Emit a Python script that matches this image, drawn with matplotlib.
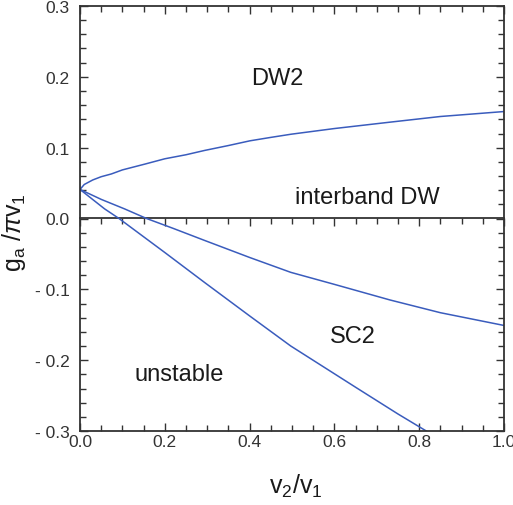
import matplotlib
matplotlib.use('Agg')
import matplotlib.pyplot as plt
from matplotlib.ticker import MultipleLocator, FixedLocator, FixedFormatter, NullFormatter

plt.rcParams['font.family'] = ['Liberation Sans', 'DejaVu Sans']
plt.rcParams['mathtext.fontset'] = 'custom'
plt.rcParams['mathtext.rm'] = 'Liberation Sans'
plt.rcParams['mathtext.it'] = 'Liberation Sans:italic'

# phase boundaries, (v2/v1, g_a/pi v1)
dw_x = [0.0, 0.01, 0.03, 0.05, 0.074, 0.1, 0.153, 0.2, 0.25, 0.294, 0.35, 0.401,
        0.45, 0.498, 0.6, 0.731, 0.85, 1.0]
dw_y = [0.041, 0.048, 0.0544, 0.059, 0.0629, 0.0686, 0.0768, 0.0843, 0.090, 0.0961,
        0.103, 0.1097, 0.1145, 0.119, 0.127, 0.136, 0.144, 0.151]

sc_x = [0.0, 0.05, 0.105, 0.157, 0.22, 0.294, 0.4, 0.497, 0.6, 0.731, 0.85, 1.0]
sc_y = [0.041, 0.027, 0.0136, 0.0, -0.014, -0.031, -0.055, -0.076, -0.093, -0.115,
        -0.133, -0.151]

un_x = [0.0, 0.058, 0.092, 0.2, 0.294, 0.4, 0.497, 0.652, 0.75, 0.825]
un_y = [0.041, 0.0136, 0.0, -0.048, -0.0904, -0.1375, -0.180, -0.239, -0.276, -0.303]

region_names = ['DW2', 'interband DW', 'SC2', 'unstable']
region_x = [0.465, 0.678, 0.644, 0.234]
region_y = [0.19, 0.0224, -0.174, -0.2276]

yticks = [-0.3, -0.2, -0.1, 0.0, 0.1, 0.2, 0.3]
ytick_labels = ['- 0.3', '- 0.2', '- 0.1', '0.0', '0.1', '0.2', '0.3']

blue = '#3a5cbd'
ink = '#333333'

fig = plt.figure(figsize=(5.13, 5.06), dpi=100)
ax = fig.add_axes([80 / 513, 74 / 506, 424 / 513, 425 / 506])

ax.plot(dw_x, dw_y, color=blue, lw=1.1)
ax.plot(sc_x, sc_y, color=blue, lw=1.1)
ax.plot(un_x, un_y, color=blue, lw=1.1)

for name, x, y in zip(region_names, region_x, region_y):
    ax.text(x, y, name, fontsize=17, ha='center', va='baseline', color='#1a1a1a')

ax.set_xlim(0, 1.0)
ax.set_ylim(-0.3, 0.3)
ax.xaxis.set_major_locator(MultipleLocator(0.2))
ax.xaxis.set_minor_locator(MultipleLocator(0.05))
ax.xaxis.set_major_formatter(plt.FuncFormatter(lambda v, p: '%.1f' % v))
ax.yaxis.set_major_locator(FixedLocator(yticks))
ax.yaxis.set_major_formatter(FixedFormatter(ytick_labels))
ax.yaxis.set_minor_locator(MultipleLocator(0.02))

ax.tick_params(which='both', direction='in', top=True, right=True,
               width=1.0, colors=ink, labelcolor=ink, labelsize=12.5)
ax.tick_params(which='major', length=6)
ax.tick_params(which='minor', length=4)
ax.tick_params(axis='x', pad=2)
ax.tick_params(axis='y', pad=7.5)
for s in ax.spines.values():
    s.set_linewidth(1.3)
    s.set_color(ink)

# zero line with its own upward ticks, no labels
zero = ax.secondary_xaxis(0.5)
zero.xaxis.set_major_locator(MultipleLocator(0.2))
zero.xaxis.set_minor_locator(MultipleLocator(0.05))
zero.xaxis.set_major_formatter(NullFormatter())
zero.tick_params(which='both', direction='in', labelbottom=False, labeltop=False,
                 colors=ink, width=1.0)
zero.tick_params(which='major', length=6)
zero.tick_params(which='minor', length=4)
for s in zero.spines.values():
    s.set_linewidth(1.3)
    s.set_color(ink)

ax.set_xlabel(r'v$_\mathregular{2}$/v$_\mathregular{1}$', fontsize=18, color='#1a1a1a')
ax.xaxis.set_label_coords(0.51, -0.095)
ax.set_ylabel(r'g$_\mathregular{a}$ /$\pi$v$_\mathregular{1}$', fontsize=18, color='#1a1a1a')
ax.yaxis.set_label_coords(-0.122, 0.47)

fig.savefig('out.png', dpi=100)
